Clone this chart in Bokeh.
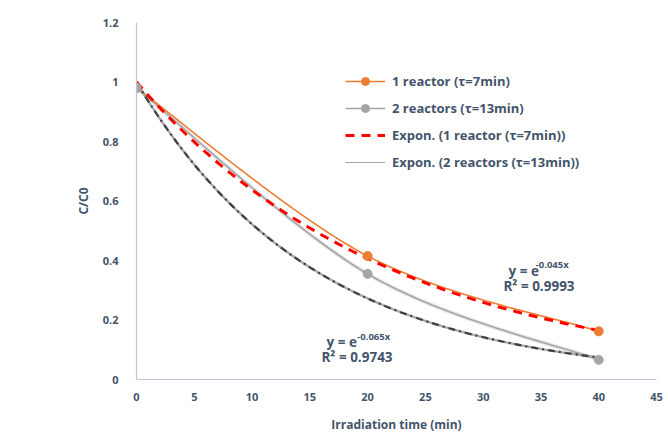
import numpy as np
from bokeh.plotting import figure
from bokeh.models import Range1d, FixedTicker, CustomJSTickFormatter, Legend, LegendItem, Label
from bokeh.embed import file_html
from bokeh.resources import INLINE

# ---- data ----
time_min = [0, 20, 40]
reactor1 = [0.98, 0.415, 0.162]
reactor2 = [0.98, 0.355, 0.066]
k1 = 0.045   # trendline y = e^(-0.045x), R2 = 0.9993
k2 = 0.065   # trendline y = e^(-0.065x), R2 = 0.9743
x_ticks = [0, 5, 10, 15, 20, 25, 30, 35, 40, 45]
y_ticks = [0, 0.2, 0.4, 0.6, 0.8, 1.0, 1.2]

TXT = "#44546A"
FONT = "Open Sans"


def smooth(xs, ys, n=60):
    """Excel-like smoothed line (Catmull-Rom cubic Bezier)."""
    P = np.column_stack([xs, ys]).astype(float)
    ext = np.vstack([P[0], P, P[-1]])
    out = []
    t = np.linspace(0, 1, n)[:, None]
    for i in range(len(P) - 1):
        p0, p1 = ext[i + 1], ext[i + 2]
        c1 = p0 + (ext[i + 2] - ext[i]) / 6.0
        c2 = p1 - (ext[i + 3] - ext[i + 1]) / 6.0
        seg = ((1 - t) ** 3) * p0 + 3 * ((1 - t) ** 2) * t * c1 + 3 * (1 - t) * t ** 2 * c2 + t ** 3 * p1
        out.append(seg if i == 0 else seg[1:])
    pts = np.vstack(out)
    return pts[:, 0], pts[:, 1]


p = figure(width=668, height=435, output_backend="svg", toolbar_location=None,
           x_range=Range1d(0, 45), y_range=Range1d(0, 1.2),
           min_border_left=136, min_border_right=12, min_border_top=22, min_border_bottom=55)
p.outline_line_color = None
p.grid.visible = False

for ax in (p.xaxis[0], p.yaxis[0]):
    ax.axis_line_color = "#BCC6D9"
    ax.axis_line_width = 1.2
    ax.major_tick_line_color = None
    ax.minor_tick_line_color = None
    ax.major_label_text_font = FONT
    ax.major_label_text_font_style = "bold"
    ax.major_label_text_font_size = "11px"
    ax.major_label_text_color = TXT
    ax.axis_label_text_font = FONT
    ax.axis_label_text_font_style = "bold"
    ax.axis_label_text_font_size = "12px"
    ax.axis_label_text_color = TXT

p.xaxis.ticker = FixedTicker(ticks=x_ticks)
p.yaxis.ticker = FixedTicker(ticks=y_ticks)
p.yaxis.formatter = CustomJSTickFormatter(code="return tick.toFixed(1).replace(/\\.0$/, '');")
p.xaxis.major_label_standoff = 7
p.yaxis.major_label_standoff = 12
p.xaxis.axis_label = "Irradiation time (min)"
p.yaxis.axis_label = "C/C0"
p.xaxis.axis_label_standoff = 12
p.yaxis.axis_label_standoff = 8

# smoothed series lines
sx1, sy1 = smooth(time_min, reactor1)
sx2, sy2 = smooth(time_min, reactor2)
p.line(sx2, sy2, line_color="#D0D0D0", line_width=4, line_alpha=0.5)
r2_line = p.line(sx2, sy2, line_color="#A5A5A5", line_width=1.6)
r1_line = p.line(sx1, sy1, line_color="#ED7D31", line_width=1.6)

# trendlines
tx = np.linspace(0, 40, 200)
t2_base = p.line(tx, np.exp(-k2 * tx), line_color="#A5A5A5", line_width=1.2)
p.line(tx, np.exp(-k2 * tx), line_color="#A0A0A0", line_width=2.6, line_alpha=0.7)
p.line(tx, np.exp(-k2 * tx), line_color="#404040", line_width=2.2, line_dash="7 4 2 4")
t1 = p.line(tx, np.exp(-k1 * tx), line_color="#FF0000", line_width=3, line_dash="9 7")

# markers
r1_pts = p.scatter(time_min, reactor1, size=9, fill_color="#ED7D31", line_color="#ED7D31")
r2_pts = p.scatter(time_min, reactor2, size=9, fill_color="#A5A5A5", line_color="#A5A5A5")

legend = Legend(items=[
    LegendItem(label="1 reactor (τ=7min)", renderers=[r1_line, r1_pts]),
    LegendItem(label="2 reactors (τ=13min)", renderers=[r2_line, r2_pts]),
    LegendItem(label="Expon. (1 reactor (τ=7min))", renderers=[t1]),
    LegendItem(label="Expon. (2 reactors (τ=13min))", renderers=[t2_base]),
], location=(209, 207))
legend.background_fill_alpha = 0
legend.border_line_color = None
legend.padding = 0
legend.margin = 0
legend.spacing = 7
legend.glyph_width = 40
legend.glyph_height = 20
legend.label_height = 20
legend.label_standoff = 7
legend.label_text_font = FONT
legend.label_text_font_style = "bold"
legend.label_text_font_size = "13px"
legend.label_text_color = TXT
p.add_layout(legend, "center")


def lab(x, y, text, size="13.5px"):
    p.add_layout(Label(x=x, y=y, text=text, text_font=FONT, text_font_style="bold",
                       text_font_size=size, text_color=TXT, text_baseline="middle",
                       text_align="left"))


lab(32.2, 0.365, "y = e")
lab(34.55, 0.386, "-0.045x", "9.5px")
lab(31.75, 0.315, "R² = 0.9993")
lab(16.45, 0.127, "y = e")
lab(19.1, 0.146, "-0.065x", "9.5px")
lab(16.0, 0.074, "R² = 0.9743")

open("out.html", "w").write(file_html(p, INLINE))
